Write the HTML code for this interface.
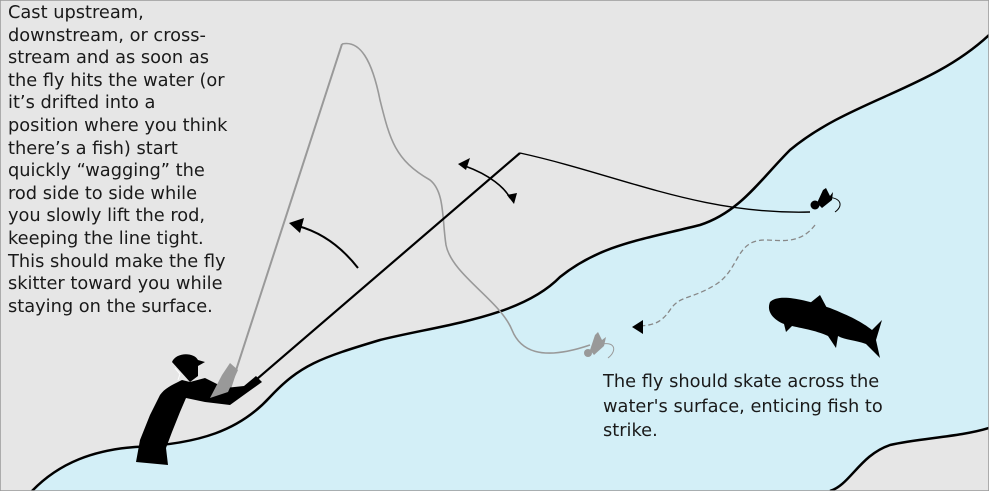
<!DOCTYPE html>
<html><head><meta charset="utf-8"><style>
body{margin:0;width:989px;height:491px;overflow:hidden;background:#e6e6e6;}
svg{position:absolute;left:0;top:0}
.t{position:absolute;font-family:"DejaVu Sans","Liberation Sans",sans-serif;font-size:17.8px;color:#1a1a1a;white-space:nowrap}
</style></head><body>
<svg width="989" height="491" viewBox="0 0 989 491">
<rect x="0" y="0" width="989" height="491" fill="#e6e6e6"/>
<path d="M32,491 C60,462 95,450 135,447 C200,444 240,430 270,397 C300,365 320,358 380,340 C440,325 520,318 560,277 C600,245 640,240 700,225 C740,212 760,180 790,150 C850,100 930,90 989,35 L989,428 C960,437 920,438 890,445 C860,455 850,485 830,491 Z" fill="#d3eff7"/>
<path d="M32,491 C60,462 95,450 135,447 C200,444 240,430 270,397 C300,365 320,358 380,340 C440,325 520,318 560,277 C600,245 640,240 700,225 C740,212 760,180 790,150 C850,100 930,90 989,35" fill="none" stroke="#000" stroke-width="2.5"/>
<path d="M830,491 C850,485 860,455 890,445 C920,438 960,437 989,428" fill="none" stroke="#000" stroke-width="2.5"/>
<rect x="0" y="0" width="989" height="491" fill="none" stroke="#999" stroke-width="1.5"/>
<line x1="228" y1="395" x2="342" y2="44" stroke="#999" stroke-width="2"/>
<path d="M342,44 C360,40 372,60 380,100 C390,140 395,160 430,180 C445,192 442,220 446,245 C452,275 500,300 512,330 C520,350 540,362 590,345" fill="none" stroke="#999" stroke-width="1.6"/>
<line x1="250" y1="385" x2="520" y2="153" stroke="#000" stroke-width="2.2"/>
<path d="M520,153 C620,175 700,215 810,212" fill="none" stroke="#000" stroke-width="1.4"/>
<path d="M815,225 C800,245 780,240 765,240 C735,240 740,270 715,285 C690,300 680,295 670,310 C660,325 650,325 640,326" fill="none" stroke="#888" stroke-width="1.3" stroke-dasharray="5,3"/>
<polygon points="632,327 643,320 643,334" fill="#000"/>
<path d="M358,268 C340,245 320,232 298,226" fill="none" stroke="#000" stroke-width="2"/>
<polygon points="289,223 304,218 300,233" fill="#000"/>
<path d="M465,166 C490,175 505,188 510,198" fill="none" stroke="#000" stroke-width="1.6"/>
<polygon points="458,164 470,158 466,170" fill="#000"/>
<polygon points="514,204 507,195 517,193" fill="#000"/>
<circle cx="815" cy="205" r="4.5" fill="#000"/>
<path d="M817,203 L823,190 L826,188 L830,196 L833,192 L832,200 L822,208 Z" fill="#000"/>
<path d="M822,198 C840,195 845,205 835,212" fill="none" stroke="#000" stroke-width="1"/>
<circle cx="588" cy="353" r="4" fill="#999"/>
<path d="M590,350 L595,335 L598,332 L602,340 L606,337 L604,346 L594,355 Z" fill="#999"/>
<path d="M598,345 C615,340 618,350 608,358" fill="none" stroke="#999" stroke-width="1"/>
<!-- fish -->
<path d="M770,302 C778,294 800,298 830,308 C850,316 862,322 872,330 L882,320 L876,340 L880,358 L866,344 C855,340 845,340 838,336 L836,348 L828,336 C815,330 800,328 792,326 L786,332 L784,324 C774,320 766,312 770,302 Z" fill="#000"/>
<path d="M810,303 L820,295 L828,310 Z" fill="#000"/>
<!-- fisherman -->
<path d="M172,362 C176,352 194,352 198,360 L205,362 L198,366 L198,376 L190,382 L182,380 C172,385 165,388 160,395 L150,415 L140,440 L136,462 L168,465 L166,448 L172,432 L180,412 L186,398 L205,402 L230,405 L248,392 L262,382 L256,376 L244,386 L225,388 L205,378 L190,382 Z" fill="#000"/>
<path d="M175,368 L180,374 L178,380" fill="none" stroke="#fff" stroke-width="1"/>
<path d="M210,398 L222,375 L230,363 L238,370 L228,392 Z" fill="#999"/>
</svg>
<div class="t" style="left:8px;top:2px;line-height:22.6px">Cast upstream,<br>downstream, or cross-<br>stream and as soon as<br>the fly hits the water (or<br>it’s drifted into a<br>position where you think<br>there’s a fish) start<br>quickly “wagging” the<br>rod side to side while<br>you slowly lift the rod,<br>keeping the line tight.<br>This should make the fly<br>skitter toward you while<br>staying on the surface.</div>
<div class="t" style="left:603px;top:370px;line-height:24.5px">The fly should skate across the<br>water's surface, enticing fish to<br>strike.</div>
</body></html>
